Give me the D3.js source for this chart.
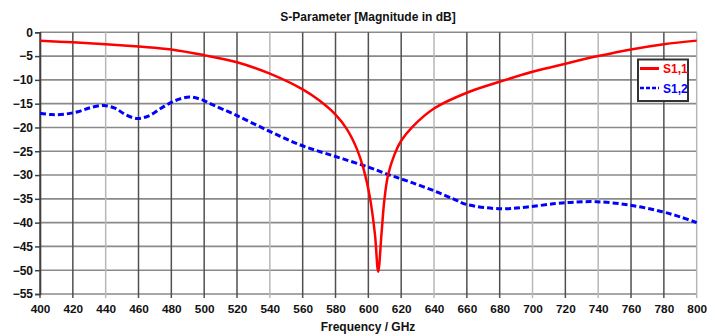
<!DOCTYPE html>
<html><head><meta charset="utf-8">
<script src="https://cdn.jsdelivr.net/npm/d3@7"></script>
<style>
html,body{margin:0;padding:0;background:#fff;}
svg{display:block;}
text{font-family:"Liberation Sans",Arial,sans-serif;font-weight:bold;}
</style></head>
<body><svg id="c" width="715" height="336"></svg>
<script>
const title = "S-Parameter [Magnitude in dB]";
const xLabel = "Frequency / GHz";
const xTicks = [400,420,440,460,480,500,520,540,560,580,600,620,640,660,680,700,720,740,760,780,800];
const yTicks = [0,-5,-10,-15,-20,-25,-30,-35,-40,-45,-50,-55];
const lightX = [440,540,640,700,740,800];
const seriesNames = ["S1,1","S1,2"];

const s11Freq = [400,420,440,460,480,500,520,540,560,570,580,587,593,597,601,604,606,608,609.7,612,616,620,627,640,660,680,700,720,740,760,780,800];
const s11Val  = [-1.8,-2.1,-2.5,-3.0,-3.6,-4.8,-6.3,-8.7,-12.0,-14.3,-17.3,-20.4,-24.5,-28.6,-34.8,-42.4,-50.3,-42.4,-35.4,-30.0,-25.6,-22.8,-19.8,-16.0,-12.7,-10.4,-8.3,-6.6,-5.0,-3.6,-2.5,-1.75];

const s12Freq = [400,407,415,423,431,439,446,452,459,466,474,482,491,498,505,518,538,558,579,599,613,625,640,653,660,681,697,714,725,739,759,779,790,800];
const s12Val  = [-17.0,-17.3,-17.2,-16.7,-15.8,-15.4,-16.0,-17.3,-18.1,-17.6,-15.9,-14.4,-13.6,-14.1,-15.2,-17.2,-20.5,-23.6,-26.0,-28.2,-30.0,-31.4,-33.3,-35.2,-36.2,-37.1,-36.7,-36.0,-35.7,-35.6,-36.3,-37.7,-38.8,-40.0];

const svg = d3.select("#c");
const x = d3.scaleLinear().domain([400,800]).range([40,696.7]);
const y = d3.scaleLinear().domain([0,-55]).range([32.3,294]);

// horizontal grid
svg.append("g").selectAll("line").data(yTicks).join("line")
  .attr("x1",x(400)).attr("x2",x(800))
  .attr("y1",d=>y(d)).attr("y2",d=>y(d))
  .attr("stroke","#8a8a8a").attr("stroke-width",1.6);
// vertical grid
svg.append("g").selectAll("line").data(xTicks).join("line")
  .attr("x1",d=>x(d)).attr("x2",d=>x(d))
  .attr("y1",y(0)).attr("y2",y(-55)+4)
  .attr("stroke",d=>lightX.includes(d)?"#b8b8b8":"#505050").attr("stroke-width",1.5);

// y axis
const ya = d3.axisLeft(y).tickValues(yTicks).tickSize(5).tickPadding(2).tickFormat(d3.format("d"));
const yg = svg.append("g").attr("transform",`translate(${x(400)},0)`).call(ya);
yg.select(".domain").attr("stroke","#404040").attr("stroke-width",1.6);
yg.selectAll(".tick line").attr("stroke","#404040").attr("stroke-width",1.5);
yg.selectAll("text").attr("font-size",12).attr("fill","#111").attr("font-family","Liberation Sans").attr("font-weight","bold");

// x axis
const xa = d3.axisBottom(x).tickValues(xTicks).tickSize(0).tickPadding(11).tickFormat(d3.format("d"));
const xg = svg.append("g").attr("transform",`translate(0,${y(-55)})`).call(xa);
xg.select(".domain").remove();
xg.selectAll("text").attr("font-size",11.8).attr("fill","#111").attr("font-family","Liberation Sans").attr("font-weight","bold");

const line = d3.line().x(d=>x(d[0])).y(d=>y(d[1])).curve(d3.curveCatmullRom.alpha(0.5));
const s11 = s11Freq.map((f,i)=>[f,s11Val[i]]);
const s12 = s12Freq.map((f,i)=>[f,s12Val[i]]);

svg.append("path").datum(s12).attr("d",line).attr("fill","none")
  .attr("stroke","#0000ff").attr("stroke-width",3).attr("stroke-dasharray","6,3");
svg.append("path").datum(s11).attr("d",line).attr("fill","none")
  .attr("stroke","#ff0000").attr("stroke-width",2.5);

// title
svg.append("text").attr("x",368).attr("y",20.5).attr("text-anchor","middle")
  .attr("font-size",12).attr("fill","#111").text(title);
svg.append("text").attr("x",368).attr("y",331).attr("text-anchor","middle")
  .attr("font-size",12).attr("fill","#111").text(xLabel);

// legend
const lg = svg.append("g");
lg.append("rect").attr("x",638).attr("y",59.5).attr("width",50).attr("height",41.5)
  .attr("fill","#fff").attr("stroke","#333").attr("stroke-width",2);
const legColors = ["#ff0000","#0000ff"];
seriesNames.forEach((n,i)=>{
  const yy = 68.5 + i*19.5;
  lg.append("line").attr("x1",640).attr("x2",659).attr("y1",yy).attr("y2",yy)
    .attr("stroke",legColors[i]).attr("stroke-width",i?2.5:3).attr("stroke-dasharray",i?"4,2":null);
  lg.append("text").attr("x",663).attr("y",yy+4.5).attr("font-size",12)
    .attr("fill",legColors[i]).text(n);
});
</script></body></html>
